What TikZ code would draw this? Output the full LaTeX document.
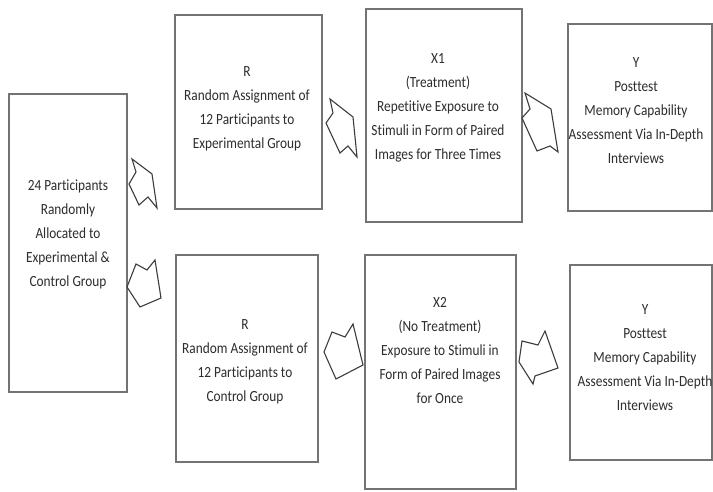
\documentclass[tikz,border=0pt]{standalone}
\usepackage{fontspec}
\setmainfont{Carlito}[FakeStretch=0.86, Ligatures={NoCommon,NoDiscretionary,NoRare}]
\begin{document}
\begin{tikzpicture}[x=1pt,y=-1pt,
  frame/.style={draw=boxgray, line width=1.7pt, fill=white, inner sep=0pt},
  txt/.style={align=center, text=inkgray, font=\fontsize{15.5}{24}\selectfont, inner sep=0pt},
  blockarrow/.style={draw=arrowgray, line width=1.1pt, fill=white, line join=miter}
]
\definecolor{boxgray}{RGB}{115,115,115}
\definecolor{inkgray}{RGB}{45,45,45}
\definecolor{arrowgray}{RGB}{60,60,60}
\useasboundingbox (0,0) rectangle (713,492);
\fill[white] (0,0) rectangle (713,492);

% boxes
\node[frame, minimum width=118pt, minimum height=298pt] (all) at (68,243) {};
\node[frame, minimum width=147pt, minimum height=194pt] (re) at (248.5,112) {};
\node[frame, minimum width=156pt, minimum height=213pt] (xa) at (444,115.5) {};
\node[frame, minimum width=144pt, minimum height=187pt] (ya) at (640,117.5) {};
\node[frame, minimum width=142pt, minimum height=207pt] (rc) at (247,358.5) {};
\node[frame, minimum width=151pt, minimum height=234pt] (xb) at (440.5,372) {};
\node[frame, minimum width=142pt, minimum height=195pt] (yb) at (641,362.5) {};

% texts
\node[txt] (tall) at (68,234) {24 Participants\\Randomly\\Allocated to\\Experimental \&\\Control Group};
\node[txt] (tre) at (247,109) {R\\Random Assignment of\\12 Participants to\\Experimental Group};
\node[txt] (txa) at (438,108) {X1\\(Treatment)\\Repetitive Exposure to\\Stimuli in Form of Paired\\Images for Three Times};
\node[txt] (tya) at (636,111) {Y\\Posttest\\Memory Capability\\Assessment Via In-Depth\\Interviews};
\node[txt] (trc) at (245,362) {R\\Random Assignment of\\12 Participants to\\Control Group};
\node[txt] (txb) at (440,351) {X2\\(No Treatment)\\Exposure to Stimuli in\\Form of Paired Images\\for Once};
\node[txt] (tyb) at (645,358) {Y\\Posttest\\Memory Capability\\Assessment Via In-Depth\\Interviews};

% notched block arrows between the boxes
\draw[blockarrow] (132,159) -- (152,174) -- (157,208) -- (148,197) -- (139,205) -- (129,184) -- (136,172) -- cycle;
\draw[blockarrow] (330,99) -- (353,117) -- (357,157) -- (348,146) -- (340,153) -- (326,123) -- (333,113) -- cycle;
\draw[blockarrow] (525,93) -- (551,109) -- (558,152) -- (550,146) -- (537,151) -- (522,118) -- (530,109) -- cycle;
\draw[blockarrow] (136,264) -- (147,270) -- (155,260) -- (161,298) -- (140,307) -- (127,287) -- cycle;
\draw[blockarrow] (332,332) -- (345,337) -- (353,324) -- (363,365) -- (336,379) -- (324,352) -- cycle;
\draw[blockarrow] (522,341) -- (538,345) -- (545,331) -- (558,368) -- (535,376) -- (533,384) -- (519,362) -- cycle;
\end{tikzpicture}
\end{document}
